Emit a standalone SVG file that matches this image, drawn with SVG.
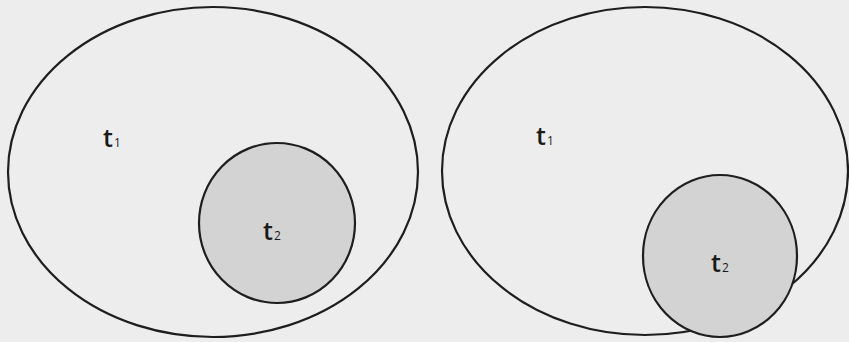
<svg xmlns="http://www.w3.org/2000/svg" width="849" height="342" viewBox="0 0 849 342">
<style>
.outer{fill:none;stroke:#1e1e1e;stroke-width:2.2}
.inner{fill:#d3d3d3;stroke:#1e1e1e;stroke-width:2.2}
.lbl{font-family:"Open Sans","Liberation Sans",sans-serif;font-size:25px;font-weight:600;fill:#1a1a1a}
.sub{font-size:12px;font-weight:400}
</style>
<rect width="849" height="342" fill="#ededed"/>
<g id="left-t1">
<ellipse class="outer" cx="213" cy="172" rx="205" ry="165"/>
<text class="lbl" x="103" y="147">t<tspan class="sub" dx="1">1</tspan></text>
</g>
<g id="left-t2">
<ellipse class="inner" cx="277" cy="223" rx="78" ry="80"/>
<text class="lbl" x="263" y="240">t<tspan class="sub" dx="1">2</tspan></text>
</g>
<g id="right-t1">
<ellipse class="outer" cx="645" cy="171" rx="203" ry="164"/>
<text class="lbl" x="536" y="145">t<tspan class="sub" dx="1">1</tspan></text>
</g>
<g id="right-t2">
<ellipse class="inner" cx="720" cy="256" rx="77" ry="81"/>
<text class="lbl" x="711" y="272">t<tspan class="sub" dx="1">2</tspan></text>
</g>
<g id="connectors"/>
</svg>
